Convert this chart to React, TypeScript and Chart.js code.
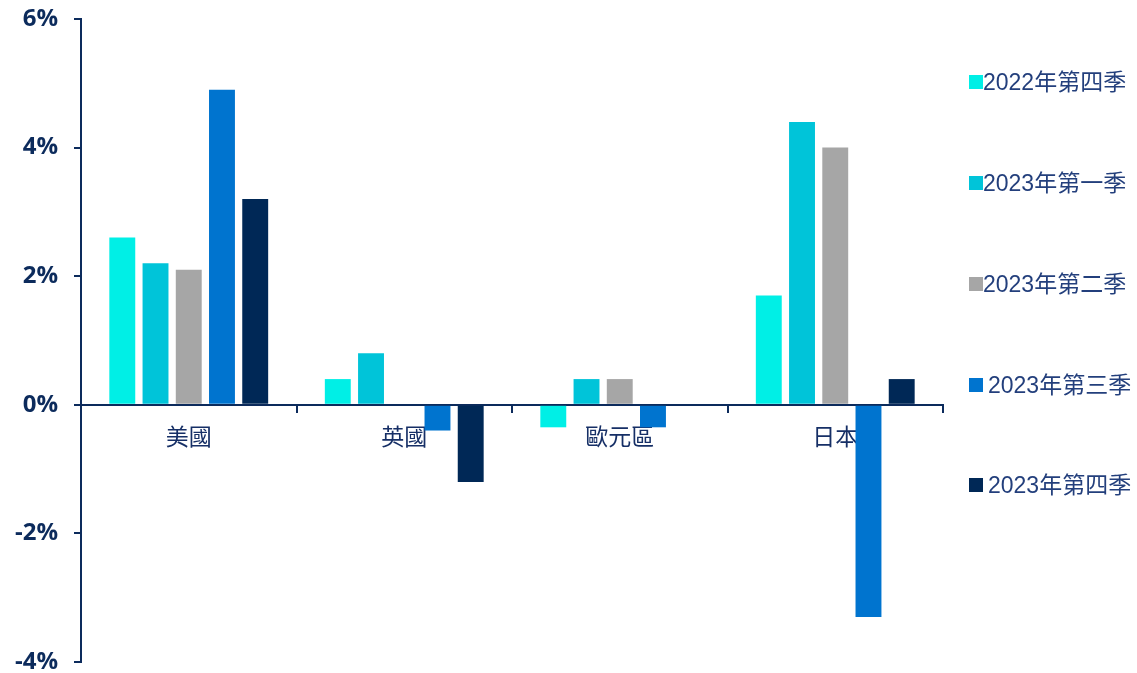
import React, { useEffect, useRef } from "react";
import { Chart, registerables } from "chart.js";

Chart.register(...registerables);

const categories = ["美國", "英國", "歐元區", "日本"];
const seriesNames = ["2022年第四季", "2023年第一季", "2023年第二季", "2023年第三季", "2023年第四季"];
const q4_2022 = [2.6, 0.4, -0.35, 1.7];
const q1_2023 = [2.2, 0.8, 0.4, 4.4];
const q2_2023 = [2.1, 0, 0.4, 4.0];
const q3_2023 = [4.9, -0.4, -0.35, -3.3];
const q4_2023 = [3.2, -1.2, 0, 0.4];
const seriesColors = ["#00EFE6", "#00C4D9", "#A6A6A6", "#0074CF", "#002856"];
const yTicks = [-4, -2, 0, 2, 4, 6];

const NAVY = "#0c2b5c";
const LEGEND_TEXT = "#233f7c";

export default function App() {
  const canvasRef = useRef<HTMLCanvasElement | null>(null);

  useEffect(() => {
    if (!canvasRef.current) return;
    const values = [q4_2022, q1_2023, q2_2023, q3_2023, q4_2023];
    const chart = new Chart(canvasRef.current, {
      type: "bar",
      data: {
        labels: categories,
        datasets: values.map((v, i) => ({
          label: seriesNames[i],
          data: v,
          backgroundColor: seriesColors[i],
          borderWidth: 0,
          barPercentage: 0.78,
          categoryPercentage: 0.771,
        })),
      },
      options: {
        animation: false,
        responsive: false,
        maintainAspectRatio: false,
        layout: { padding: { top: 19, right: 194, bottom: 11, left: 0 } },
        plugins: { legend: { display: false }, tooltip: { enabled: false } },
        scales: {
          x: {
            position: { y: 0 } as any,
            grid: {
              display: true,
              drawOnChartArea: false,
              drawTicks: true,
              tickLength: 7,
              color: NAVY,
              lineWidth: 2,
              offset: true,
            },
            border: { display: true, color: NAVY, width: 2 },
            ticks: {
              color: "#162f66",
              padding: 11,
              font: { family: "'Noto Sans CJK TC', sans-serif", size: 23 },
              maxRotation: 0,
            },
          },
          y: {
            min: -4,
            max: 6,
            afterBuildTicks: (scale: any) => {
              scale.ticks = yTicks.map((v) => ({ value: v }));
            },
            afterFit: (scale: any) => {
              scale.width = 81;
              scale.paddingTop = 0;
              scale.paddingBottom = 0;
            },
            grid: {
              drawOnChartArea: false,
              drawTicks: true,
              tickLength: 7,
              color: NAVY,
              lineWidth: 2,
            },
            border: { display: true, color: NAVY, width: 2 },
            ticks: {
              color: NAVY,
              padding: 16,
              font: { family: "'Open Sans', sans-serif", size: 24, weight: "bold" as any },
              callback: (v: any) => `${v}%`,
            },
          },
        },
      },
    });
    return () => chart.destroy();
  }, []);

  const legendCenters = [82, 183, 284, 385, 485];
  const legendTextLeft = [983, 983, 983, 988, 988];

  return (
    <div style={{ position: "absolute", left: 0, top: 0, width: 1137, height: 673, background: "#fff" }}>
      <canvas ref={canvasRef} width={1137} height={673} style={{ display: "block", width: 1137, height: 673 }} />
      {seriesNames.map((name, i) => (
        <div key={name}>
          <div
            style={{
              position: "absolute",
              left: 969,
              top: legendCenters[i] - 7,
              width: 14,
              height: 14,
              background: seriesColors[i],
            }}
          />
          <div
            style={{
              position: "absolute",
              left: legendTextLeft[i],
              top: legendCenters[i] - 16,
              height: 32,
              lineHeight: "32px",
              fontFamily: "'Liberation Sans', 'Noto Sans CJK TC', sans-serif",
              fontSize: 23,
              color: LEGEND_TEXT,
              whiteSpace: "nowrap",
            }}
          >
            {name}
          </div>
        </div>
      ))}
    </div>
  );
}
